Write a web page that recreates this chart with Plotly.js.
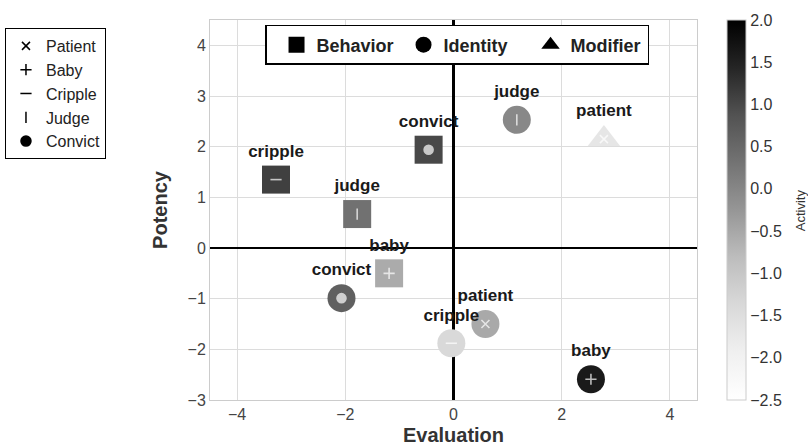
<!DOCTYPE html>
<html>
<head>
<meta charset="utf-8">
<script src="https://cdn.plot.ly/plotly-3.0.1.min.js"></script>
<style>html,body{margin:0;padding:0;background:#fff;}#chart{width:808px;height:446px;}</style>
</head>
<body>
<div id="chart"></div>
<script>
// Behavior (squares)
const behaviorWords = ['cripple', 'judge', 'convict', 'baby'];
const behaviorEval = [-3.28, -1.78, -0.46, -1.19];
const behaviorPot = [1.35, 0.67, 1.94, -0.50];
const behaviorAct = [1.1, 0.35, 1.0, -0.55];

// Identity (circles)
const identityWords = ['judge', 'convict', 'patient', 'cripple', 'baby'];
const identityEval = [1.17, -2.07, 0.59, -0.04, 2.54];
const identityPot = [2.53, -0.99, -1.50, -1.88, -2.59];
const identityAct = [-0.02, 0.64, -0.52, -1.37, 1.6];

// Modifier (triangles)
const modifierWords = ['patient'];
const modifierEval = [2.78];
const modifierPot = [2.15];
const modifierAct = [-1.7];

// Word symbol legend
const wordKeys = ['patient', 'baby', 'cripple', 'judge', 'convict'];
const wordLabels = ['Patient', 'Baby', 'Cripple', 'Judge', 'Convict'];
const wordSymbols = ['x-thin-open', 'cross-thin-open', 'line-ew-open', 'line-ns-open', 'circle'];

const typeLabels = ['Behavior', 'Identity', 'Modifier'];
const typeSymbols = ['square', 'circle', 'triangle-up'];

const xTicks = [-4, -2, 0, 2, 4];
const yTicks = [-3, -2, -1, 0, 1, 2, 3, 4];
const cbTicks = [-2.5, -2.0, -1.5, -1.0, -0.5, 0.0, 0.5, 1.0, 1.5, 2.0];

const greys = [
  [0, '#ffffff'], [0.125, '#f0f0f0'], [0.25, '#d9d9d9'], [0.375, '#bdbdbd'],
  [0.5, '#969696'], [0.625, '#737373'], [0.75, '#525252'], [0.875, '#252525'], [1, '#000000']
];
const CMIN = -2.5, CMAX = 2.0;
const FONT = 'Liberation Sans, Arial, sans-serif';

function symFor(w) { return wordSymbols[wordKeys.indexOf(w)]; }

function mainTrace(words, xs, ys, acts, symbol, size, showScale) {
  return {
    type: 'scatter', mode: 'markers+text', x: xs, y: ys, text: words,
    textposition: 'top center',
    textfont: {family: FONT, size: 17, color: '#1a1a1a', weight: 'bold'},
    marker: {
      symbol: symbol, size: size, color: acts, colorscale: greys, cmin: CMIN, cmax: CMAX,
      line: {width: 0},
      showscale: showScale,
      colorbar: showScale ? {
        x: 1.062, xanchor: 'left', y: 0.5, yanchor: 'middle', len: 1, lenmode: 'fraction',
        thickness: 19, outlinecolor: '#cccccc', outlinewidth: 1, ypad: 0, xpad: 0,
        tickmode: 'array', tickvals: cbTicks, ticktext: cbTicks.map(v => (v < 0 ? '\u2212' : '') + Math.abs(v).toFixed(1)),
        ticks: '', tickfont: {family: FONT, size: 16, color: '#333'}
      } : undefined
    },
    showlegend: false, hoverinfo: 'text', cliponaxis: false
  };
}
function innerTrace(words, xs, ys) {
  return {
    type: 'scatter', mode: 'markers', x: xs, y: ys,
    marker: {
      symbol: words.map(symFor),
      size: words.map(w => w === 'convict' ? 9 : 8),
      color: 'white', line: {color: 'white', width: 1.6}
    },
    showlegend: false, hoverinfo: 'skip', cliponaxis: false
  };
}

const traces = [
  mainTrace(behaviorWords, behaviorEval, behaviorPot, behaviorAct, 'square', 28, true),
  innerTrace(behaviorWords, behaviorEval, behaviorPot),
  mainTrace(identityWords, identityEval, identityPot, identityAct, 'circle', 28, false),
  innerTrace(identityWords, identityEval, identityPot),
  mainTrace(modifierWords, modifierEval, modifierPot, modifierAct, 'triangle-up', 28, false),
  innerTrace(modifierWords, modifierEval, modifierPot)
];

wordLabels.forEach((lab, i) => {
  traces.push({
    type: 'scatter', mode: 'markers', x: [null], y: [null], name: lab,
    legend: 'legend', legendgroup: 'w' + i,
    marker: {symbol: wordSymbols[i], size: i === 4 ? 10 : 8, color: 'black', line: {color: 'black', width: 1.5}}
  });
});
typeLabels.forEach((lab, i) => {
  traces.push({
    type: 'scatter', mode: 'markers', x: [null], y: [null], name: lab,
    legend: 'legend2',
    marker: {symbol: typeSymbols[i], size: 16, color: 'black'}
  });
});

const layout = {
  width: 808, height: 446,
  margin: {l: 210, r: 111, t: 20, b: 46, autoexpand: false},
  paper_bgcolor: 'white', plot_bgcolor: 'white',
  font: {family: FONT, size: 16, color: '#333'},
  xaxis: {
    range: [-4.5, 4.5], tickvals: xTicks, ticks: '', showgrid: true, gridcolor: '#dcdcdc', gridwidth: 1,
    zeroline: true, zerolinecolor: 'black', zerolinewidth: 2.5,
    showline: true, mirror: true, linecolor: '#cccccc', linewidth: 1,
    tickfont: {family: FONT, size: 16, color: '#444'},
    title: {text: 'Evaluation', font: {family: FONT, size: 20, color: '#333', weight: 'bold'}, standoff: 7}
  },
  yaxis: {
    range: [-3, 4.5], tickvals: yTicks, ticks: '', showgrid: true, gridcolor: '#dcdcdc', gridwidth: 1,
    zeroline: true, zerolinecolor: 'black', zerolinewidth: 2.5,
    showline: true, mirror: true, linecolor: '#cccccc', linewidth: 1,
    tickfont: {family: FONT, size: 16, color: '#444'},
    title: {text: 'Potency', font: {family: FONT, size: 20, color: '#333', weight: 'bold'}, standoff: 14}
  },
  annotations: [{
    text: 'Activity', xref: 'paper', yref: 'paper', x: 1.212, y: 0.5, xanchor: 'center', yanchor: 'middle',
    textangle: -90, showarrow: false, font: {family: FONT, size: 13, color: '#333'}
  }],
  legend: {
    x: -0.421, xanchor: 'left', y: 0.979, yanchor: 'top',
    bgcolor: 'white', bordercolor: 'black', borderwidth: 1,
    font: {family: FONT, size: 16, color: '#222'},
    traceorder: 'grouped', tracegroupgap: 0, itemsizing: 'trace', itemwidth: 30
  },
  legend2: {
    orientation: 'h', x: 0.113, xanchor: 'left', y: 0.987, yanchor: 'top',
    bgcolor: 'white', bordercolor: 'black', borderwidth: 1.5,
    font: {family: FONT, size: 18, color: '#222', weight: 'bold'},
    itemsizing: 'trace', entrywidth: 72, entrywidthmode: 'pixels', indentation: 10
  }
};

Plotly.newPlot('chart', traces, layout, {displayModeBar: false, staticPlot: true});
</script>
</body>
</html>
